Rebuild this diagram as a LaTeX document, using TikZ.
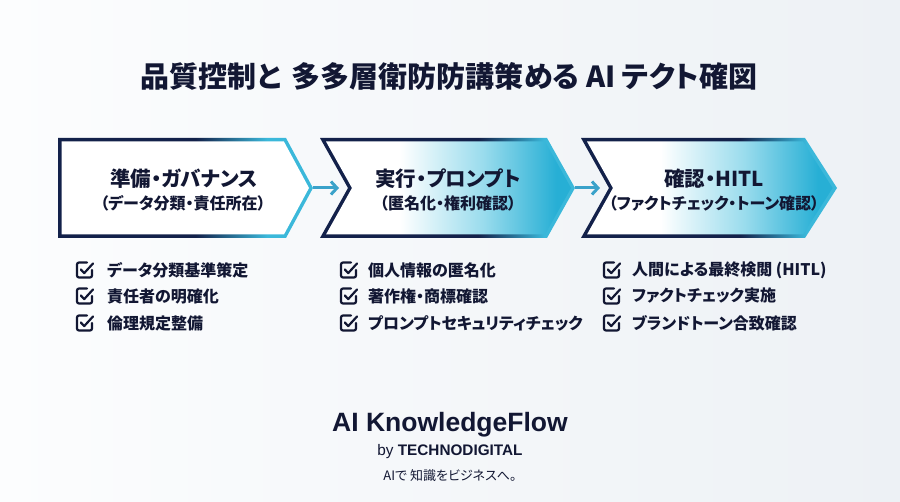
\documentclass[tikz,border=0pt]{standalone}
\usepackage{fontspec}
\setmainfont{Liberation Sans}
\newfontfamily\jp{Noto Sans CJK JP}
\newfontfamily\jpp{Noto Sans CJK JP}[RawFeature=+palt]
\usetikzlibrary{arrows.meta}
\definecolor{navy}{HTML}{13214A}
\definecolor{ink}{HTML}{121733}
\definecolor{cyanB}{HTML}{3BB8DA}
\definecolor{cyanF}{HTML}{27AFD5}
\definecolor{cyanL}{HTML}{9ADCED}
\definecolor{arrowc}{HTML}{3AA2CA}
\definecolor{bgL}{HTML}{FCFDFE}
\definecolor{bgR}{HTML}{EDF1F5}
% shading: path spans 25bp..75bp
\pgfdeclarehorizontalshading{bordA}{100bp}{color(0bp)=(navy); color(52bp)=(navy); color(66bp)=(cyanB); color(100bp)=(cyanB)}
\pgfdeclarehorizontalshading{bordB}{100bp}{color(0bp)=(navy); color(56bp)=(navy); color(69bp)=(cyanB); color(100bp)=(cyanB)}
\pgfdeclarehorizontalshading{fillB}{100bp}{color(0bp)=(white); color(40bp)=(white); color(57bp)=(cyanL); color(72bp)=(cyanF); color(100bp)=(cyanF)}
\tikzset{
  chevtitle/.style={font=\jpp\bfseries\fontsize{20.5}{24}\selectfont, text=ink, inner sep=0pt},
  chevsub/.style={font=\jpp\bfseries\fontsize{16}{19}\selectfont, text=ink, inner sep=0pt},
  item/.style={font=\jpp\bfseries\fontsize{16}{19}\selectfont, text=ink, anchor=west, inner sep=0pt},
  flowarrow/.style={draw=arrowc, line width=3pt, -{Straight Barb[length=6pt,width=13pt,line width=3pt]}},
  cbox/.pic={
    \draw[ink, line width=2.2pt, line cap=round, line join=round, rounded corners=2pt]
      (10,0) -- (0,0) -- (0,15) -- (15,15) -- (15,7.5);
    \draw[ink, line width=2.2pt, line cap=round, line join=round]
      (3.8,7) -- (7.2,10.6) -- (16,1);
  }
}
\begin{document}
\begin{tikzpicture}[x=1pt,y=-1pt]
\useasboundingbox (0,0) rectangle (900,502);
\shade[left color=bgL, right color=bgR] (0,0) rectangle (900,502);

% title
\node[font=\jpp\bfseries\fontsize{29}{33}\selectfont, text=ink] (title) at (449,76) {品質控制と\hspace{0.15em} 多多層衛防防講策める AI テクト確図};

% chevron 1
\shade[shading=bordA] (58,138) -- (286,138) -- (313,188) -- (286,238) -- (58,238) -- cycle;
\fill[white] (61.5,141.5) -- (283.9,141.5) -- (309,188) -- (283.9,234.5) -- (61.5,234.5) -- cycle;
% chevron 2
\shade[shading=bordB] (320,138) -- (547,138) -- (575,188) -- (547,238) -- (320,238) -- (348,188) -- cycle;
\shade[shading=fillB] (326,141.5) -- (545,141.5) -- (571,188) -- (545,234.5) -- (326,234.5) -- (352,188) -- cycle;
% chevron 3
\shade[shading=bordB] (581,138) -- (805,138) -- (837,188) -- (805,238) -- (581,238) -- (609,188) -- cycle;
\shade[shading=fillB] (587,141.5) -- (803,141.5) -- (832.6,188) -- (803,234.5) -- (587,234.5) -- (613,188) -- cycle;

\coordinate (c1tip) at (313,188);
\coordinate (c2in) at (339,188);
\coordinate (c2tip) at (575,188);
\coordinate (c3in) at (600,188);
\draw[flowarrow] (c1tip) -- (c2in);
\draw[flowarrow] (c2tip) -- (c3in);

% chevron texts
\node[chevtitle] (h1) at (184,179) {準備・ガバナンス};
\node[chevsub] (s1) at (183,203) {（データ分類・責任所在）};
\node[chevtitle] (h2) at (448,179) {実行・プロンプト};
\node[chevsub] (s2) at (448,203) {（匿名化・権利確認）};
\node[chevtitle] (h3) at (714,179) {確認・HITL};
\node[chevsub] (s3) at (714,203) {（ファクトチェック・トーン確認）};

% checklists
\foreach \x in {77, 341, 604}{
  \foreach \y in {270,296,323}{
    \pic at (\x,\y-7.5) {cbox};
  }
}
\node[item] (i11) at (107,270) {データ分類基準策定};
\node[item] (i12) at (107,296) {責任者の明確化};
\node[item] (i13) at (107,323) {倫理規定整備};
\node[item] (i21) at (368,270) {個人情報の匿名化};
\node[item] (i22) at (368,296) {著作権・商標確認};
\node[item] (i23) at (368,323) {プロンプトセキュリティチェック};
\node[item] (i31) at (632,270) {人間による最終検閲 (HITL)};
\node[item] (i32) at (632,296) {ファクトチェック実施};
\node[item] (i33) at (632,323) {ブランドトーン合致確認};

% footer
\node[font=\bfseries\fontsize{26.5}{30}\selectfont, text=ink] (brand) at (450,425) {AI KnowledgeFlow};
\node[font=\fontsize{15.3}{18}\selectfont, text=ink] (by) at (450,452) {by \textbf{TECHNODIGITAL}};
\node[font=\jpp\fontsize{13}{15}\selectfont, text=ink] (tag) at (450,476) {AIで 知識をビジネスへ。};
\end{tikzpicture}
\end{document}
